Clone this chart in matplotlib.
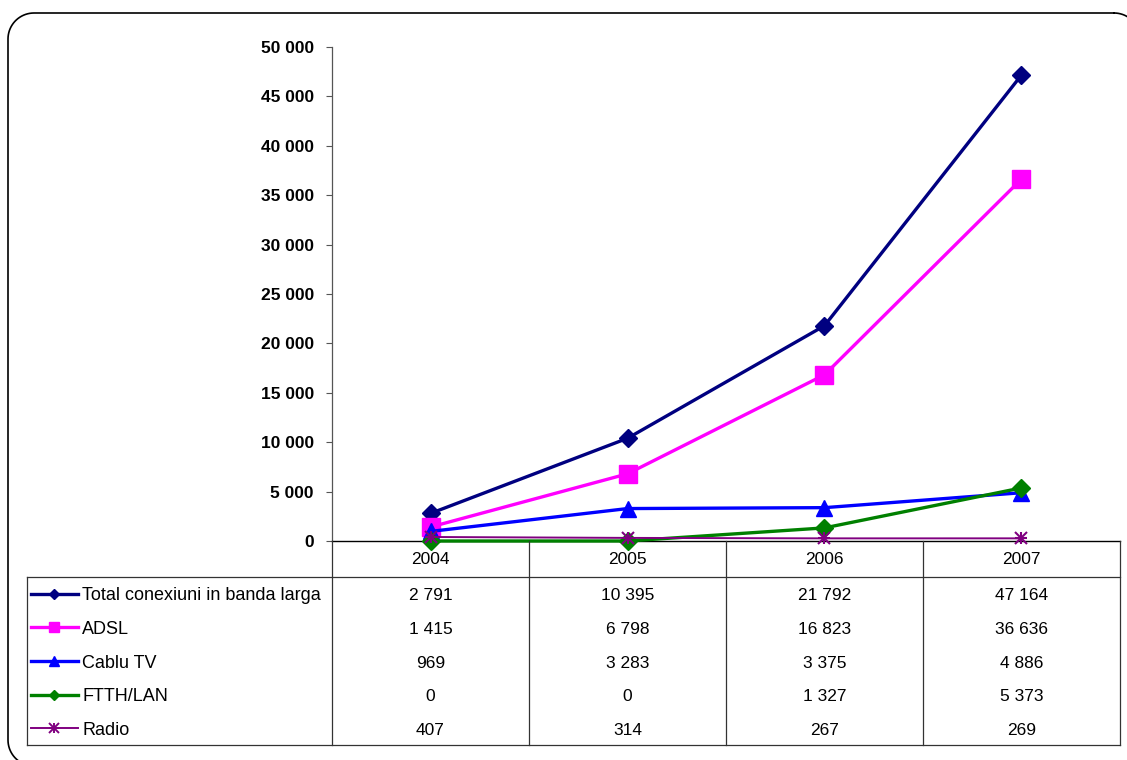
import numpy as np
import matplotlib
matplotlib.use("Agg")
import matplotlib.pyplot as plt

plt.rcParams['font.family'] = ['Liberation Sans', 'DejaVu Sans']

# data
years = ["2004", "2005", "2006", "2007"]
total = [2791, 10395, 21792, 47164]
adsl = [1415, 6798, 16823, 36636]
cablu = [969, 3283, 3375, 4886]
ftth = [0, 0, 1327, 5373]
radio = [407, 314, 267, 269]
names = ["Total conexiuni in banda larga", "ADSL", "Cablu TV", "FTTH/LAN", "Radio"]
yticks = [0, 5000, 10000, 15000, 20000, 25000, 30000, 35000, 40000, 45000, 50000]

series = [total, adsl, cablu, ftth, radio]
styles = [  # color, marker, chart marker size, legend marker size, line width
    ("#000080", "D", 9.5, 5, 2.4),
    ("#FF00FF", "s", 13, 7, 2.4),
    ("#0000FF", "^", 12, 7.5, 2.4),
    ("#008000", "D", 9.5, 5, 2.4),
    ("#800080", "x", 8.5, 6.5, 1.4),
]

W, H = 1127, 760
fig = plt.figure(figsize=(W / 100, H / 100), dpi=100)


def px_rect(x0, y0, x1, y1):
    # pixel box (top-left origin) -> figure fraction [l, b, w, h]
    return [x0 / W, 1 - y1 / H, (x1 - x0) / W, (y1 - y0) / H]


def rounded_box(x0, y0, x1, y1, r):
    # outline of a rounded rectangle as x, y arrays (pixel coords)
    t = np.linspace(0, np.pi / 2, 20)
    xs, ys = [], []
    corners = [(x1 - r, y0 + r, -np.pi / 2), (x1 - r, y1 - r, 0),
               (x0 + r, y1 - r, np.pi / 2), (x0 + r, y0 + r, np.pi)]
    for cx, cy, a in corners:
        xs.extend(cx + r * np.cos(a + t))
        ys.extend(cy + r * np.sin(a + t))
    xs.append(xs[0])
    ys.append(ys[0])
    return xs, ys


# rounded outer frame on a full-figure pixel canvas
bg = fig.add_axes([0, 0, 1, 1])
bg.set_xlim(0, W)
bg.set_ylim(H, 0)
bg.axis("off")
fx, fy = rounded_box(8, 13, 1140, 766, 26)
bg.plot(fx, fy, color="black", lw=1.2)

# main chart
L, R, T, B = 332, 1120, 47, 541
ax = fig.add_axes(px_rect(L, T, R, B))
ax.patch.set_alpha(0)
x = np.arange(len(years))
for vals, (c, m, ms, lms, lw) in zip(series, styles):
    if m == "x":
        ax.plot(x, vals, color=c, lw=lw, marker="x", ms=ms, mew=1.5, clip_on=False, zorder=3)
        ax.plot(x, vals, ls="none", color=c, marker="+", ms=ms * 1.1, mew=1.5, clip_on=False, zorder=3)
    else:
        ax.plot(x, vals, color=c, lw=lw, marker=m, ms=ms, mec=c, clip_on=False, zorder=3)

ax.set_xlim(-0.5, len(years) - 0.5)
ax.set_ylim(0, 50000)
ax.set_yticks(yticks)
ax.set_yticklabels([f"{v:,}".replace(",", " ") for v in yticks],
                   fontsize=12.5, fontweight="bold")
ax.tick_params(axis="y", direction="out", length=4, pad=9, width=0.8, color="#555555")
ax.set_xticks([])
for s in ["top", "right"]:
    ax.spines[s].set_visible(False)
ax.spines["left"].set_color("#555555")
ax.spines["left"].set_linewidth(0.9)
ax.spines["bottom"].set_linewidth(1.0)

# data table below the axis
TL, TB, TH = 27, 745, 577
tab = fig.add_axes(px_rect(TL, B, R, TB))
tab.patch.set_alpha(0)
tab.set_xlim(TL, R)
tab.set_ylim(TB, B)
tab.axis("off")
lc = "#333333"
edges = np.linspace(L, R, len(years) + 1)
for e in edges:
    tab.plot([e, e], [B, TB], color=lc, lw=0.9, clip_on=False)
tab.plot([TL, R], [TH, TH], color=lc, lw=0.9, clip_on=False)
tab.plot([TL, R], [TB, TB], color=lc, lw=0.9, clip_on=False)
tab.plot([TL, TL], [TH, TB], color=lc, lw=0.9, clip_on=False)

centers = (edges[:-1] + edges[1:]) / 2
for cx, yr in zip(centers, years):
    tab.text(cx, (B + TH) / 2, yr, ha="center", va="center", fontsize=12.5)

rh = (TB - TH) / len(series)
for i, (name, vals, (c, m, ms, lms, lw)) in enumerate(zip(names, series, styles)):
    cy = TH + rh * (i + 0.5)
    tab.plot([31, 78], [cy, cy], color=c, lw=lw)
    if m == "x":
        tab.plot([54], [cy], color=c, marker="x", ms=lms, mew=1.4)
        tab.plot([54], [cy], color=c, marker="+", ms=lms * 1.1, mew=1.4)
    else:
        tab.plot([54], [cy], color=c, marker=m, ms=lms, mec=c)
    tab.text(82, cy + 2, name, ha="left", va="center", fontsize=13)
    for cx, v in zip(centers, vals):
        tab.text(cx, cy + 2, f"{v:,}".replace(",", " "), ha="center", va="center", fontsize=12.5)

fig.savefig("out.png", dpi=100)
